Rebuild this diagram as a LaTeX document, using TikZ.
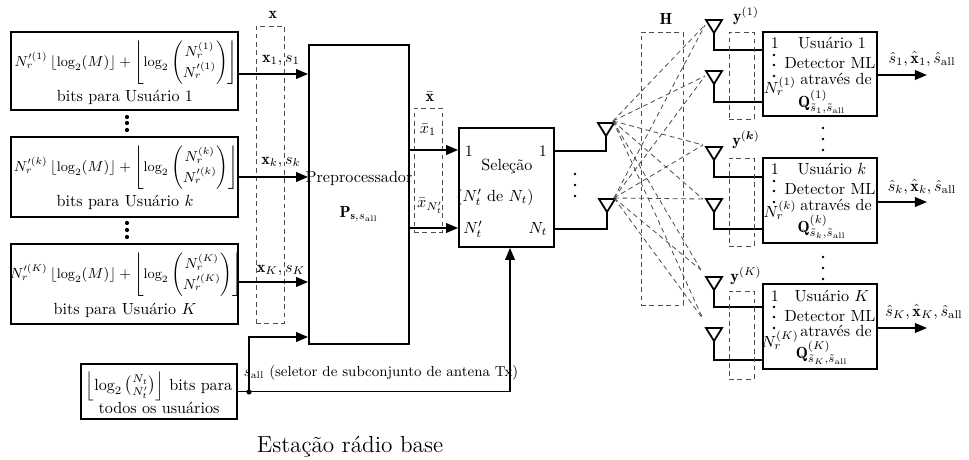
\documentclass[tikz,border=0pt]{standalone}
\usepackage{fontspec}
\usepackage{amsmath}
\usetikzlibrary{arrows.meta,fit,calc}
\tikzset{
  box/.style={draw, line width=1.1pt, inner sep=0pt, rectangle},
  arr/.style={line width=1.1pt, -{Triangle[length=7.5pt,width=6pt]}},
  ln/.style={line width=1.1pt},
  dsh/.style={draw=black!70, line width=0.5pt, dash pattern=on 3pt off 2.2pt},
  lbl/.style={inner sep=0pt},
  frm/.style={inner sep=0pt, font=\fontsize{8.6}{10}\selectfont},
  antenna/.pic={\draw[line width=1.1pt, line join=miter] (-8,0) -- (8,0) -- (0,13) -- cycle;}
}
\begin{document}
\begin{tikzpicture}[x=0.62pt,y=-0.62pt]
\useasboundingbox (0,0) rectangle (969,460);

% ---------------- left user boxes
\node[box, fit={(11,32)(238,110)}] (b1) {};
\node[frm] (f1) at (126,63) {$N_r^{\prime(1)}\,\lfloor\log_2(M)\rfloor + \left\lfloor\log_2\dbinom{N_r^{(1)}}{N_r^{\prime(1)}}\right\rfloor$};
\node[lbl] (t1) at (125,97) {bits para Usuário 1};

\node[box, fit={(11,137)(238,217)}] (bk) {};
\node[frm] (fk) at (126,168) {$N_r^{\prime(k)}\,\lfloor\log_2(M)\rfloor + \left\lfloor\log_2\dbinom{N_r^{(k)}}{N_r^{\prime(k)}}\right\rfloor$};
\node[lbl] (tk) at (125,202) {bits para Usuário $k$};

\node[box, fit={(11,244)(238,324)}] (bK) {};
\node[frm] (fK) at (126,275) {$N_r^{\prime(K)}\,\lfloor\log_2(M)\rfloor + \left\lfloor\log_2\dbinom{N_r^{(K)}}{N_r^{\prime(K)}}\right\rfloor$};
\node[lbl] (tK) at (125,310) {bits para Usuário $K$};

\foreach \yy in {117,123,130,223,230,237} \fill (127,\yy) circle (1.3pt);

% ---------------- x dashed box
\node[dsh, draw, inner sep=0pt, fit={(256,26)(284,323)}] (xbox) {};
\node[lbl] (xl) at (273,15) {$\mathbf{x}$};

% ---------------- preprocessor
\node[box, fit={(309,45)(409,344)}] (pre) {};
\node[lbl] (pret) at (359,178) {Preprocessador};
\node[lbl] (prep) at (359,214) {$\mathbf{P}_{\mathbf{s},s_{\text{all}}}$};

\draw[arr] (b1.east |- 0,74) -- (pre.west |- 0,74);
\draw[arr] (bk.east |- 0,177) -- (pre.west |- 0,177);
\draw[arr] (bK.east |- 0,282) -- (pre.west |- 0,282);
\node[lbl] (a1) at (281,60) {$\mathbf{x}_1,s_1$};
\node[lbl] (ak) at (281,162) {$\mathbf{x}_k,s_k$};
\node[lbl] (aK) at (281,270) {$\mathbf{x}_K,s_K$};

% ---------------- bottom box
\node[box, fit={(81,364)(237,419)}] (bb) {};
\node[lbl] (bbt1) at (159,386) {$\left\lfloor\log_2\tbinom{N_t}{N_t'}\right\rfloor$ bits para};
\node[lbl] (bbt2) at (159,408) {todos os usuários};

% ---------------- selection
\node[box, fit={(459,128)(554,247)}] (sel) {};
\node[lbl] (s1l) at (469,151) {1};
\node[lbl] (s1r) at (543,151) {1};
\node[lbl] (selt) at (507,166) {Seleção};
\node[lbl] (seln) at (495,197) {$(N_t'$ de $N_t)$};
\node[lbl] (sNl) at (473,229) {$N_t'$};
\node[lbl] (sNr) at (538,229) {$N_t$};

\coordinate (jn) at (249,392);
\draw[arr] (bb.east) -| (sel.south -| 510,0);
\draw[arr] (jn) |- (pre.west |- 0,337);
\fill (jn) circle (1.6pt);
\node[lbl, font=\small] (sall) at (381,373) {$s_{\text{all}}$ (seletor de subconjunto de antena Tx)};

% ---------------- xbar
\node[dsh, draw, inner sep=0pt, fit={(414,108)(442,232)}] (xbbox) {};
\node[lbl] (xbl) at (430,97) {$\bar{\mathbf{x}}$};
\draw[arr] (pre.east |- 0,150) -- (sel.west |- 0,150);
\draw[arr] (pre.east |- 0,228) -- (sel.west |- 0,228);
\node[lbl] (xb1) at (428,130) {$\bar{x}_1$};
\node[lbl] (xbN) at (430,206) {$\bar{x}_{N_t'}$};

% ---------------- Tx antennas
\pic at (606,123) {antenna};
\pic at (607,199) {antenna};
\coordinate (tx1) at (606,136);
\coordinate (tx2) at (607,212);
\draw[ln] (sel.east |- 0,151) -| (tx1);
\draw[ln] (sel.east |- 0,229) -| (tx2);
\foreach \yy in {174,185,196} \fill (575,\yy) circle (0.8pt);
\coordinate (ts1) at (613,121);
\coordinate (ts2) at (614,198);

% ---------------- H box
\node[dsh, draw, inner sep=0pt, fit={(641,32)(683,305)}] (hbox) {};
\node[lbl] (hl) at (666,19) {$\mathbf{H}$};

% ---------------- receiver boxes
\node[box, fit={(763,32)(877,116)}] (u1) {};
\node[box, fit={(763,158)(877,243)}] (uk) {};
\node[box, fit={(763,284)(877,369)}] (uK) {};

% Rx antennas
\foreach \tp/\nm in {20/ra, 71/rb, 147/rc, 199/rd, 277/re, 328/rf}
  {\pic at (714,\tp) {antenna};
   \coordinate (\nm) at (714,\tp+13);}
\draw[ln] (ra) |- (u1.west |- 0,50);
\draw[ln] (rb) |- (u1.west |- 0,102);
\draw[ln] (rc) |- (uk.west |- 0,177);
\draw[ln] (rd) |- (uk.west |- 0,229);
\draw[ln] (re) |- (uK.west |- 0,307);
\draw[ln] (rf) |- (uK.west |- 0,360);

% channel lines
\coordinate (ea) at (705,25);
\coordinate (eb) at (705,76);
\coordinate (ec) at (703,145);
\coordinate (ed) at (703,199);
\coordinate (ee) at (701,270);
\coordinate (ef) at (703,319);
\foreach \s in {ts1,ts2}
  \foreach \e in {ea,eb,ec,ed,ee,ef}
    \draw[dsh] (\s) -- (\e);

% y dashed boxes
\node[dsh, draw, inner sep=0pt, fit={(729,32)(754,119)}] (y1box) {};
\node[dsh, draw, inner sep=0pt, fit={(729,158)(754,246)}] (ykbox) {};
\node[dsh, draw, inner sep=0pt, fit={(729,291)(754,379)}] (yKbox) {};
\node[lbl] (y1l) at (746,16) {$\mathbf{y}^{(1)}$};
\node[lbl] (ykl) at (746,140) {$\mathbf{y}^{(\boldsymbol{k})}$};
\node[lbl] (yKl) at (746,276) {$\mathbf{y}^{(K)}$};

% receiver contents
\node[lbl] (u1a) at (775,43) {1};
\node[lbl] (u1n) at (780,86) {$N_r^{(1)}$};
\node[lbl] (u1b) at (832,43) {Usuário 1};
\node[lbl] (u1c) at (830,63) {Detector ML};
\node[lbl] (u1d) at (836,79) {através de};
\node[lbl] (u1e) at (822,102) {$\mathbf{Q}^{(1)}_{\tilde{s}_1,\tilde{s}_{\text{all}}}$};
\foreach \yy in {55,65,76} \fill (774,\yy) circle (0.8pt);

\node[lbl] (uka) at (775,169) {1};
\node[lbl] (ukn) at (780,210) {$N_r^{(k)}$};
\node[lbl] (ukb) at (832,169) {Usuário $k$};
\node[lbl] (ukc) at (830,189) {Detector ML};
\node[lbl] (ukd) at (836,205) {através de};
\node[lbl] (uke) at (822,227) {$\mathbf{Q}^{(k)}_{\tilde{s}_k,\tilde{s}_{\text{all}}}$};
\foreach \yy in {181,191,202} \fill (774,\yy) circle (0.8pt);

\node[lbl] (uKa) at (775,296) {1};
\node[lbl] (uKn) at (780,340) {$N_r^{(K)}$};
\node[lbl] (uKb) at (832,296) {Usuário $K$};
\node[lbl] (uKc) at (830,316) {Detector ML};
\node[lbl] (uKd) at (836,331) {através de};
\node[lbl] (uKe) at (822,353) {$\mathbf{Q}^{(K)}_{\tilde{s}_K,\tilde{s}_{\text{all}}}$};
\foreach \yy in {307,317,328} \fill (774,\yy) circle (0.8pt);

\foreach \yy in {128,139,150,257,268,279} \fill (823,\yy) circle (0.8pt);

% outputs
\draw[arr] (u1.east |- 0,75) -- (927,75) coordinate (o1);
\draw[arr] (uk.east |- 0,202) -- (927,202) coordinate (ok);
\draw[arr] (uK.east |- 0,328) -- (927,328) coordinate (oK);
\node[lbl] (o1l) at (922,59) {$\hat{s}_1,\hat{\mathbf{x}}_1,\hat{s}_{\text{all}}$};
\node[lbl] (okl) at (922,187) {$\hat{s}_k,\hat{\mathbf{x}}_k,\hat{s}_{\text{all}}$};
\node[lbl] (oKl) at (924,312) {$\hat{s}_K,\hat{\mathbf{x}}_K,\hat{s}_{\text{all}}$};

\node[lbl, font=\Large] (erb) at (350,447) {Estação rádio base};
\end{tikzpicture}
\end{document}
